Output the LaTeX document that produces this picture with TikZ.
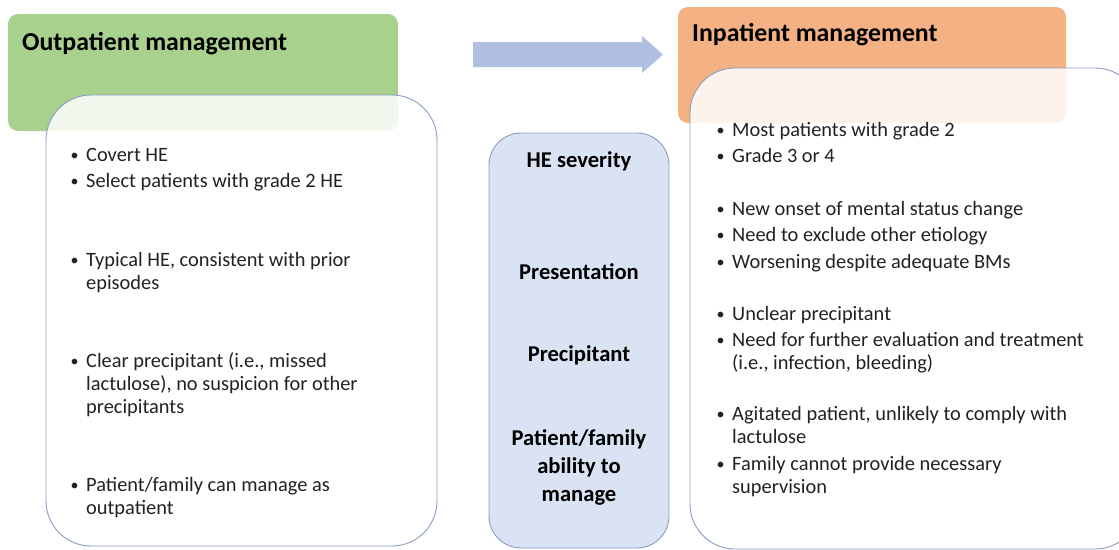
\documentclass[tikz,border=0pt]{standalone}
\usepackage{fontspec}
\setmainfont{Carlito}
\newcommand{\bul}{\makebox[14pt][l]{\hspace*{-1.5pt}\raisebox{0.8pt}{\fontsize{16}{16}\selectfont\textbullet}}}
\newcommand{\ind}{\hspace*{14pt}}
\begin{document}
\begin{tikzpicture}[x=1pt, y=-1pt,
    title/.style={anchor=base west, inner sep=0pt, font=\fontsize{25.8}{30}\selectfont\bfseries},
    item/.style={anchor=base west, inner sep=0pt, align=left, text=textColour, font=\fontsize{20.4}{23}\selectfont},
    factor/.style={inner sep=0pt, align=center, font=\fontsize{22.6}{28}\selectfont\bfseries}]
    % Define colours
    \definecolor{greenFill}{HTML}{A9D18E}
    \definecolor{orangeFill}{HTML}{F4B183}
    \definecolor{arrowFill}{HTML}{AFBFE2}
    \definecolor{middleFill}{HTML}{DAE3F3}
    \definecolor{borderColour}{HTML}{8A9DC0}
    \definecolor{textColour}{HTML}{222222}

    % Define page size
    \def\pageW{1119}
    \def\pageH{549}
    \useasboundingbox (0,0) rectangle (\pageW,\pageH);
    \clip (0,0) rectangle (\pageW,\pageH);

    % Draw header boxes
    \fill[greenFill, rounded corners=10pt] (8,14) rectangle (398,131);
    \fill[orangeFill, rounded corners=10pt] (678,7) rectangle (1066,123);
    \node[title] (outTitle) at (22,50) {Outpatient management};
    \node[title] (inTitle) at (692,41) {Inpatient management};

    % Draw arrow between headers
    \fill[arrowFill] (473,42) -- (642,42) -- (642,36) -- (663,54.5) -- (642,73) -- (642,67) -- (473,67) -- cycle;

    % Draw content boxes
    \filldraw[fill=white, fill opacity=0.85, draw=borderColour, line width=0.9pt, rounded corners=45pt] (46,95) rectangle (437,546);
    \filldraw[fill=white, fill opacity=0.85, draw=borderColour, line width=0.9pt, rounded corners=45pt] (690,68) rectangle (1140,549);
    \filldraw[fill=middleFill, draw=borderColour, line width=0.9pt, rounded corners=32pt] (489,133) rectangle (669,548);

    % Label middle factors
    \node[factor] (severity) at (579,161) {HE severity};
    \node[factor] (presentation) at (579,272) {Presentation};
    \node[factor] (precipitant) at (579,355) {Precipitant};
    \node[factor] (ability) at (579,467) {Patient/family\\ability to\\manage};

    % Outpatient items
    \node[item] (outSeverity) at (72,187) {\bul Covert HE\\[3pt]\bul Select patients with grade 2 HE};
    \node[item] (outPresentation) at (72,289) {\bul Typical HE, consistent with prior\\\ind episodes};
    \node[item] (outPrecipitant) at (72,413) {\bul Clear precipitant (i.e., missed\\\ind lactulose), no suspicion for other\\\ind precipitants};
    \node[item] (outAbility) at (72,514) {\bul Patient/family can manage as\\\ind outpatient};

    % Inpatient items
    \node[item] (inSeverity) at (718,162) {\bul Most patients with grade 2\\[3pt]\bul Grade 3 or 4};
    \node[item] (inPresentation) at (718,268) {\bul New onset of mental status change\\[3pt]\bul Need to exclude other etiology\\[4pt]\bul Worsening despite adequate BMs};
    \node[item] (inPrecipitant) at (718,369) {\bul Unclear precipitant\\[3pt]\bul Need for further evaluation and treatment\\\ind (i.e., infection, bleeding)};
    \node[item] (inAbility) at (718,493) {\bul Agitated patient, unlikely to comply with\\\ind lactulose\\[4pt]\bul Family cannot provide necessary\\\ind supervision};

\end{tikzpicture}
\end{document}
